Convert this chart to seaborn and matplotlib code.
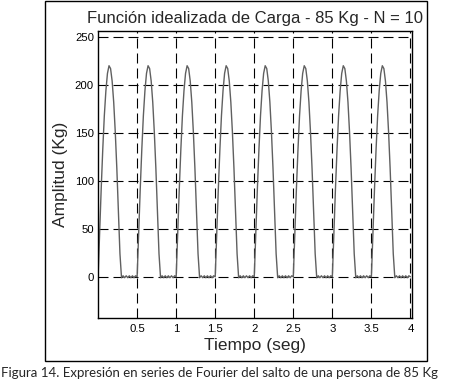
import numpy as np
import matplotlib
matplotlib.use("Agg")
import matplotlib.pyplot as plt
import seaborn as sns
from matplotlib.patches import Rectangle

period_t = [0.00, 0.02, 0.04, 0.06, 0.08, 0.10, 0.12, 0.14, 0.16, 0.18,
            0.20, 0.22, 0.24, 0.26, 0.28, 0.30, 0.32, 0.34, 0.36, 0.38,
            0.40, 0.42, 0.44, 0.46, 0.48]
period_kg = [0, 47, 92, 133, 168, 194, 212, 220, 217, 204,
             182, 151, 113, 70, 24, -1, 1, -1, 1, -1,
             1, -1, 1, -1, 1]
n_jumps = 8

xticks = [0.5, 1, 1.5, 2, 2.5, 3, 3.5, 4]
xticklabels = ["0.5", "1", "1.5", "2", "2.5", "3", "3.5", "4"]
yticks = [0, 50, 100, 150, 200, 250]

title = "Función idealizada de Carga - 85 Kg - N = 10"
caption = "Figura 14. Expresión en series de Fourier del salto de una persona de 85 Kg"

t = np.concatenate([np.array(period_t) + 0.5 * k for k in range(n_jumps)] + [[4.0]])
kg = np.concatenate([period_kg] * n_jumps + [[0]])

sns.set_style("white")
plt.rcParams['font.family'] = ['Liberation Sans', 'DejaVu Sans']

fig = plt.figure(figsize=(4.52, 3.85), dpi=100)
ax = fig.add_axes([0.217, 0.174, 0.6945, 0.745])

sns.lineplot(x=t, y=kg, ax=ax, color="#606060", lw=1.0)

ax.set_xlim(0, 4.02)
ax.set_ylim(-43, 256)
ax.set_xticks(xticks)
ax.set_xticklabels(xticklabels)
ax.set_yticks(yticks)
ax.tick_params(labelsize=8.2, length=0, pad=3, colors="black")
ax.tick_params(axis="x", pad=4)
ax.grid(True, color="black", lw=0.8, ls=(0, (9, 4.5)))
for s in ax.spines.values():
    s.set_color("black")
    s.set_linewidth(1.0)

ax.set_title(title, fontsize=12, pad=6)
ax.set_xlabel("Tiempo (seg)", fontsize=12.5, labelpad=3)
ax.set_ylabel("Amplitud (Kg)", fontsize=12.5, labelpad=5)

# outer frame around the figure
fig.patches.append(Rectangle((0.0996, 0.062), 0.845, 0.935, transform=fig.transFigure,
                             fill=False, edgecolor="black", lw=1.0))

fig.text(0.003, 0.031, caption, fontsize=9.55, family=['Lato', 'DejaVu Sans'],
         ha="left", va="center")

fig.savefig("out.png", dpi=100)
